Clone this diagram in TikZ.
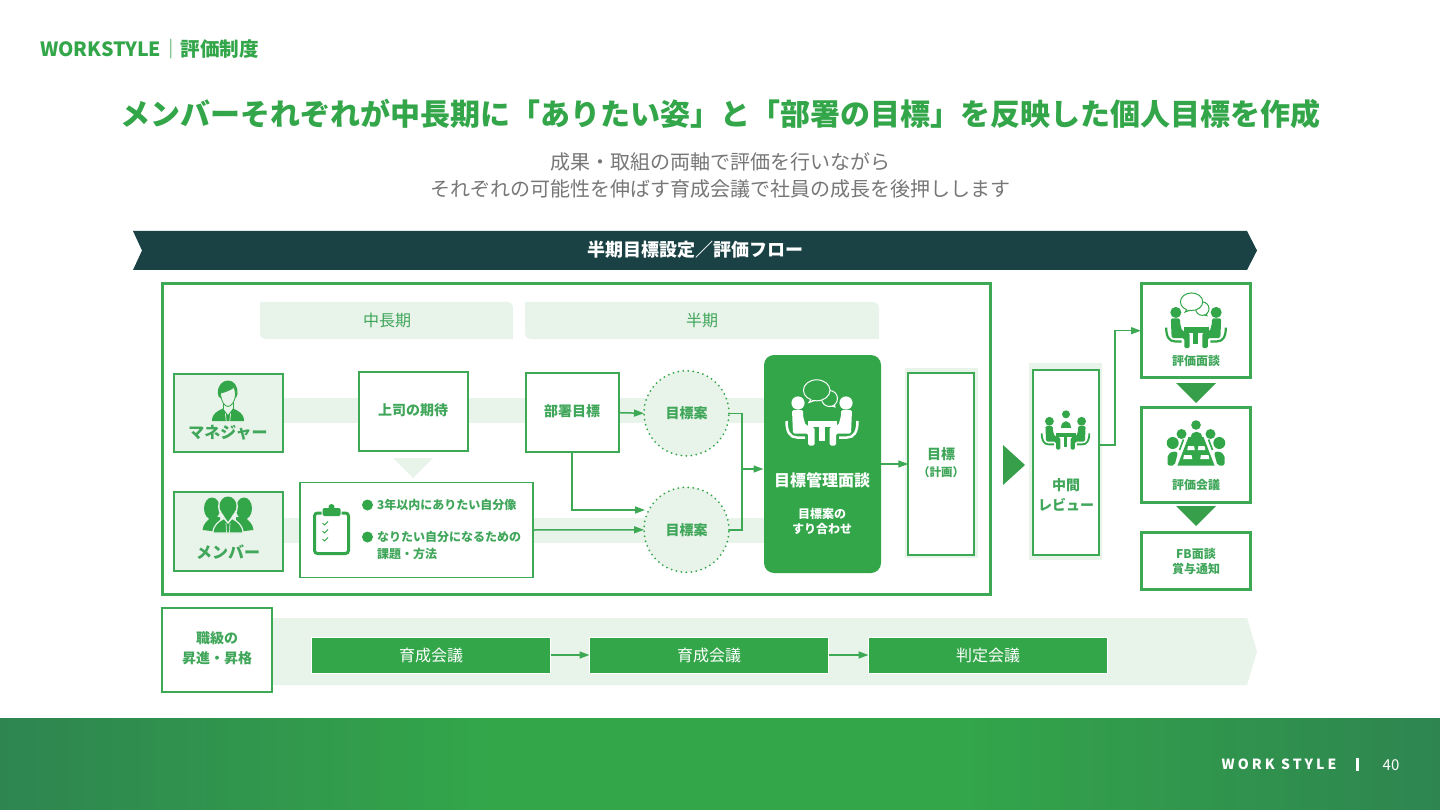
\documentclass[tikz,border=0pt]{standalone}
\usepackage{fontspec}
\setmainfont{Noto Sans CJK JP}
\usetikzlibrary{arrows.meta,positioning}
\definecolor{mainGreen}{HTML}{33A64A}
\definecolor{lineGreen}{HTML}{3DA955}
\definecolor{textGreen}{HTML}{3FA65A}
\definecolor{paleGreen}{HTML}{E8F3E9}
\definecolor{darkTeal}{HTML}{1A4245}
\definecolor{triGreen}{HTML}{379E4A}
\definecolor{footEdge}{HTML}{2E8550}
\definecolor{subGray}{HTML}{777777}
\pgfdeclarehorizontalshading{footband}{100bp}{color(0bp)=(footEdge); color(25bp)=(footEdge); color(42bp)=(mainGreen); color(58bp)=(mainGreen); color(75bp)=(footEdge); color(100bp)=(footEdge)}
\tikzset{
  pics/seatpair/.style 2 args={code={
    \foreach \sx in {1,-1} {
      \begin{scope}[xscale=\sx]
      \fill [#1,rounded corners=1.5] (-30,-2) -- (-19,-2) -- (-19,4) -- (-16.5,13) -- (-7.5,15.5) -- (-7.5,33.5) -- (-14,33.5) -- (-14,21.5) -- (-29,21.5) -- cycle;
      \draw [#1,line width=#2] (-35.5,9) .. controls (-35.5,20) and (-32,25.5) .. (-25,25.5) -- (-17,25.5);
      \fill [#1] (-24,-9) circle (6.6);
      \end{scope}
    }
    \fill [#1] (-14,8.5) rectangle (15,15);
    \fill [#1] (-3,15) rectangle (2.5,29);
  }},
  pics/talk/.style 2 args={code={
    \draw [#1,fill=#2,line width=1] (3,-8) -- (13,-5) -- (11,-12) -- cycle;
    \draw [#1,fill=#2,line width=1] (7.5,-13.5) circle (8);
    \fill [#2] (5,-9) -- (11.5,-6.8) -- (10.5,-11) -- cycle;
    \draw [#1,fill=#2,line width=1] (-10,-14) -- (-13,-9.5) -- (-3,-13) -- cycle;
    \draw [#1,fill=#2,line width=1] (-5.3,-21.7) ellipse (13.3 and 10.5);
    \fill [#2] (-9,-15) -- (-11,-11.5) -- (-4,-14.5) -- cycle;
  }},
  pics/manager/.style={code={
    \fill [mainGreen] (-16,20) .. controls (-16,12) and (-10,10) .. (-5,7.5) -- (0,14) -- (5,7.5) .. controls (10,10) and (16,12) .. (16,20) -- cycle;
    \draw [paleGreen,line width=.7] (-2.6,12.5) -- (-1.8,20);
    \draw [paleGreen,line width=.7] (2.6,12.5) -- (1.8,20);
    \draw [mainGreen,line width=.8] (-5,1) -- (-5,7.5);
    \draw [mainGreen,line width=.8] (5,1) -- (5,7.5);
    \fill [mainGreen] (-10,-7) .. controls (-11,-16) and (-5,-20.5) .. (0,-20.5) .. controls (6,-20.5) and (10,-15) .. (9.5,-7) .. controls (9,-4) and (8,-3) .. (7,-3) -- (-7.5,-3) .. controls (-9,-3) and (-10,-5) .. (-10,-7) -- cycle;
    \draw [mainGreen,fill=paleGreen,line width=.8] (-7.5,-8) .. controls (-3,-9) and (3,-11) .. (6,-14) .. controls (7,-11) and (7.5,-9) .. (7.5,-6) .. controls (7,1) and (3,5.5) .. (0,5.5) .. controls (-3,5.5) and (-7,1) .. (-7.5,-8) -- cycle;
  }},
  pics/members/.style={code={
    \foreach \sx in {1,-1} {
      \begin{scope}[xscale=\sx]
      \fill [mainGreen] (16,-8.5) ellipse (8 and 11);
      \fill [mainGreen] (25.5,13) .. controls (25,6) and (20,4) .. (17,0) -- (8,0) -- (8,15) -- cycle;
      \end{scope}
    }
    \fill [paleGreen] (0,-10.5) ellipse (10 and 11.5);
    \fill [mainGreen] (0,-11) ellipse (8.5 and 9.5);
    \fill [mainGreen] (-6.5,-5) -- (6.5,-5) -- (0,5) -- cycle;
    \draw [paleGreen,fill=mainGreen,line width=1.2] (-15,16) .. controls (-15,8) and (-9,4) .. (-4,1.5) -- (0,6) -- (4,1.5) .. controls (9,4) and (15,8) .. (15,16) -- cycle;
    \draw [paleGreen,line width=.7] (-2,6) -- (-1.5,15.5);
    \draw [paleGreen,line width=.7] (2,6) -- (1.5,15.5);
  }},
  pics/clipboard/.style={code={
    \draw [mainGreen,line width=3,rounded corners=3] (-10,-18) -- (-17,-18) -- (-17,22.5) -- (17,22.5) -- (17,-18) -- (10,-18);
    \fill [mainGreen,rounded corners=1.5] (-9,-23) rectangle (9,-15);
    \fill [mainGreen] (0,-24) circle (3);
    \foreach \yy in {-8,0,8} {
      \draw [mainGreen,line width=1] (-9,\yy) -- (-7,\yy+2) -- (-3.5,\yy-1.5);
    }
  }},
  pics/boardroom/.style={code={
    \fill [mainGreen] (-7.5,-7) -- (7.5,-7) -- (18.5,21.5) -- (-18.5,21.5) -- cycle;
    \foreach \xa/\ya/\wa in {-8/2/6,2.5/2/6,-12/11/7.5,5/11/7.5} {
      \fill [white] (\xa,\ya) -- (\xa+\wa,\ya) -- (\xa+\wa+.8,\ya+4) -- (\xa-.8,\ya+4) -- cycle;
    }
    \fill [mainGreen] (0,-19) circle (4.8);
    \fill [mainGreen] (-5.5,-7) .. controls (-5.5,-14.5) and (5.5,-14.5) .. (5.5,-7) -- cycle;
    \foreach \sx in {-1,1} {
      \begin{scope}[xscale=\sx]
      \fill [mainGreen] (14.5,-10) circle (5);
      \fill [mainGreen] (23.3,-1) circle (6);
      \fill [mainGreen,rounded corners=2] (28.5,21.5) -- (28.5,11) -- (23,7) -- (18,8.5) -- (21.5,21.5) -- cycle;
      \draw [mainGreen,line width=1.6] (12.5,-4.5) -- (16.5,6);
      \end{scope}
    }
  }}
}
\begin{document}
\begin{tikzpicture}[x=1pt,y=-1pt,>={Triangle[length=10pt,width=7pt]}]
\tikzstyle{every node}+=[inner sep=0pt,outer sep=0pt]
\tikzstyle{frame}=[draw=lineGreen,line width=3pt,fill=white]
\tikzstyle{box}=[draw=lineGreen,line width=1.9pt,fill=white]
\tikzstyle{palebox}=[draw=lineGreen,line width=1.9pt,fill=paleGreen]
\tikzstyle{flow}=[draw=lineGreen,line width=1.5pt]
\tikzstyle{bar}=[fill=mainGreen,draw=white,line width=1pt,text=white,font=\fontsize{16}{19}\selectfont]
\tikzstyle{planstyle}=[circle,draw=mainGreen,fill=paleGreen,line width=2pt,line cap=round,dash pattern=on 0pt off 5pt,minimum size=85pt]
\tikzstyle{lab}=[text=textGreen,font=\fontsize{14}{20}\selectfont\bfseries,align=center]
\tikzstyle{labsmall}=[text=textGreen,font=\fontsize{12}{15}\selectfont\bfseries,align=center]
\tikzstyle{labwide}=[text=textGreen,font=\fontsize{16}{19}\selectfont\bfseries]
\tikzstyle{period}=[text=textGreen,font=\fontsize{16}{19}\selectfont]
\useasboundingbox (0,0) rectangle (1440,810);
\fill [white] (0,0) rectangle (1440,810);
\shade [shading=footband] (0,718) rectangle (1440,810);
\node [anchor=west,text=mainGreen,font=\fontsize{19.6}{24}\selectfont\bfseries] (heading) at (40,49) {WORKSTYLE{\mdseries ｜}評価制度};
\node [text=mainGreen,font=\fontsize{30}{36}\selectfont\bfseries] (headline) at (720.5,114) {メンバーそれぞれが中長期に「ありたい姿」と「部署の目標」を反映した個人目標を作成};
\node [text=subGray,font=\fontsize{20}{27}\selectfont,align=center] (lead) at (720,175) {成果・取組の両軸で評価を行いながら\\それぞれの可能性を伸ばす育成会議で社員の成長を後押しします};
\fill [darkTeal] (133,231) -- (1247,231) -- (1257,250.5) -- (1247,270) -- (133,270) -- (142,250.5) -- cycle;
\node [text=white,font=\fontsize{18}{22}\selectfont\bfseries] (flowtitle) at (695,250) {半期目標設定／評価フロー};
\node [frame,minimum width=828pt,minimum height=311.7pt] (planframe) at (576.5,439) {};
\fill [paleGreen] (260,302) -- (506,302) .. controls (511,302) and (513,304) .. (513,309) -- (513,339) -- (267,339) .. controls (262,339) and (260,337) .. (260,332) -- cycle;
\fill [paleGreen] (525,302) -- (872,302) .. controls (877,302) and (879,304) .. (879,309) -- (879,339) -- (532,339) .. controls (527,339) and (525,337) .. (525,332) -- cycle;
\node [period] (midterm) at (387,320) {中長期};
\node [period] (halfterm) at (702,320) {半期};
\fill [paleGreen] (283,398) rectangle (765,423);
\fill [paleGreen] (283,518) rectangle (765,543);
\node [palebox,minimum width=109pt,minimum height=78.6pt] (manager) at (228.2,413) {};
\pic at (228,401) {manager};
\node [labwide] (managerlab) at (228,433) {マネジャー};
\node [palebox,minimum width=109pt,minimum height=79.3pt] (member) at (228.2,531.7) {};
\pic at (228,517) {members};
\node [labwide] (memberlab) at (228,552) {メンバー};
\node [box,minimum width=109.3pt,minimum height=79.6pt] (expect) at (413.7,411.5) {};
\node [lab] (expectlab) at (413,410) {上司の期待};
\fill [paleGreen] (393,458) -- (433,458) -- (413,478) -- cycle;
\node [box,minimum width=233pt,minimum height=95pt] (wish) at (416.7,530) {};
\pic at (331.5,531) {clipboard};
\fill [mainGreen] (367.5,505) circle (5.5);
\fill [mainGreen] (367.5,537) circle (5.5);
\node [labsmall,anchor=west] (wishone) at (377,505) {3年以内にありたい自分像};
\node [labsmall,font=\fontsize{12}{16.7}\selectfont\bfseries,anchor=north west,align=left] (wishtwo) at (377,531.5) {なりたい自分になるための\\課題・方法};
\node [box,minimum width=93pt,minimum height=78.7pt] (dept) at (572.2,412.7) {};
\node [lab] (deptlab) at (572,411) {部署目標};
\node [planstyle] (planA) at (686.5,413.3) {};
\node [planstyle] (planB) at (686.5,529.8) {};
\node [lab] (planAlab) at (686.5,413) {目標案};
\node [lab] (planBlab) at (686.5,530) {目標案};
\node [fill=mainGreen,rounded corners=10pt,minimum width=117pt,minimum height=218pt] (talk) at (822.5,464) {};
\pic at (822,412) {seatpair={white}{2.5pt}};
\pic at (822,412) {talk={white}{mainGreen}};
\node [text=white,font=\fontsize{16}{19}\selectfont\bfseries] (talklab) at (822,480) {目標管理面談};
\node [text=white,font=\fontsize{12}{15}\selectfont\bfseries,align=center] (talksub) at (822,521.5) {目標案の\\すり合わせ};
\fill [paleGreen] (905,368) rectangle (978,558);
\node [box,minimum width=66pt,minimum height=182pt] (goal) at (941.3,464) {};
\node [lab] (goallab) at (941,454) {目標};
\node [text=textGreen,font=\fontsize{11.5}{14}\selectfont\bfseries] (goalsub) at (941,472) {（計画）};
\fill [triGreen] (1003,445) -- (1025,465) -- (1003,485) -- cycle;
\fill [paleGreen] (1029,363) rectangle (1102,560);
\node [box,minimum width=66pt,minimum height=185pt] (review) at (1066,462.3) {};
\pic [scale=.67] at (1065.5,427.3) {seatpair={mainGreen}{1.8pt}};
\fill [mainGreen] (1066,414.3) circle (4);
\fill [mainGreen] (1061,428) .. controls (1061,418.5) and (1071,418.5) .. (1071,428) -- cycle;
\node [lab] (reviewlab) at (1066,494.5) {中間\\レビュー};
\node [frame,minimum width=109pt,minimum height=94pt] (hearing) at (1195.5,330.7) {};
\pic [scale=.84] at (1196,320) {seatpair={mainGreen}{2.2pt}};
\pic [scale=.84] at (1196,320) {talk={mainGreen}{white}};
\node [labsmall] (hearinglab) at (1196,361) {評価面談};
\fill [triGreen] (1176,383) -- (1216,383) -- (1196,403) -- cycle;
\node [frame,minimum width=109pt,minimum height=94.6pt] (council) at (1195.5,455) {};
\pic at (1196,444) {boardroom};
\node [labsmall] (councillab) at (1196,485) {評価会議};
\fill [triGreen] (1176,506) -- (1216,506) -- (1196,526) -- cycle;
\node [frame,minimum width=109pt,minimum height=57.7pt] (notice) at (1195.5,561) {};
\node [labsmall] (noticelab) at (1196,561.5) {FB面談\\賞与通知};
\fill [paleGreen] (272,618) -- (1247,618) -- (1257,651.5) -- (1247,685) -- (272,685) -- cycle;
\node [box,minimum width=109.6pt,minimum height=84.3pt] (grade) at (217,649.7) {};
\node [lab] (gradelab) at (217,648) {職級の\\昇進・昇格};
\node [bar,minimum width=239pt,minimum height=36pt] (meetA) at (431,655) {育成会議};
\node [bar,minimum width=239pt,minimum height=36pt] (meetB) at (709,655) {育成会議};
\node [bar,minimum width=239pt,minimum height=36pt] (meetC) at (988,655) {判定会議};
\coordinate (planBtop) at (645,510);
\coordinate (merge) at (742,469);
\coordinate (talkin) at (763.5,469);
\coordinate (reviewout) at (1099,445);
\coordinate (reviewkink) at (1115,445);
\draw [flow,->] (dept.east) -- (planA.west);
\draw [flow,->] (dept.south) |- (planBtop);
\draw [flow,->] (wish.east) -- (planB.west);
\draw [flow] (planA.east) -| (merge);
\draw [flow] (planB.east) -| (merge);
\draw [flow,->] (merge) -- (talkin);
\draw [flow,->] (talk.east) -- (goal.west);
\draw [flow,->] (reviewout) -- (reviewkink) |- (hearing.west);
\draw [flow,->] (meetA.east) -- (meetB.west);
\draw [flow,->] (meetB.east) -- (meetC.west);
\node [text=white,font=\fontsize{14}{17}\selectfont\bfseries\addfontfeature{LetterSpace=22}] (footname) at (1279,764) {WORK STYLE};
\fill [white] (1355.5,758) rectangle (1359,771);
\node [text=white,font=\fontsize{15}{18}\selectfont] (pageno) at (1391,765) {40};
\end{tikzpicture}
\end{document}
